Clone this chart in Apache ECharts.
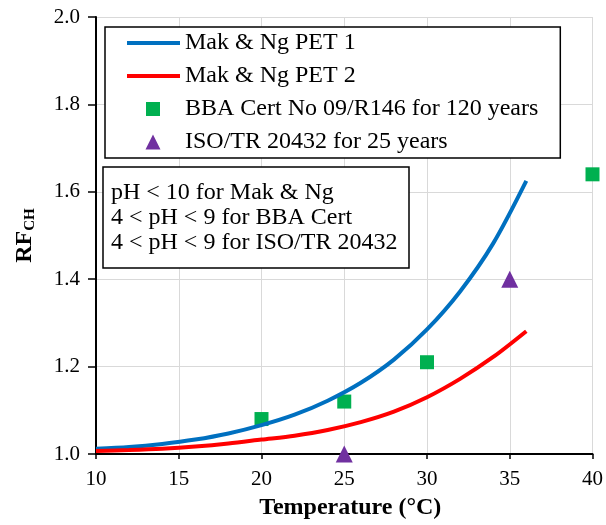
<!DOCTYPE html>
<html>
<head>
<meta charset="utf-8">
<script src="https://cdn.jsdelivr.net/npm/echarts@6/dist/echarts.min.js"></script>
<style>
    html, body { margin: 0; padding: 0; background: #fff; }
    #chart { width: 606px; height: 525px; }
</style>
</head>
<body>
<div id="chart"></div>
<script>
// curve temperatures (°C) and RF_CH
const curveTemp = [10, 12, 14, 16, 18, 20, 22, 24, 26, 28, 30, 32, 34, 36];
const pet1RF = [1.012, 1.016, 1.023, 1.033, 1.047, 1.066, 1.090, 1.122, 1.163, 1.216, 1.285, 1.372, 1.482, 1.625];
const pet2RF = [1.007, 1.009, 1.012, 1.017, 1.024, 1.033, 1.042, 1.055, 1.073, 1.097, 1.130, 1.172, 1.222, 1.281];

const bbaTemp = [20, 25, 30, 40];
const bbaRF = [1.08, 1.12, 1.21, 1.64];

const isoTemp = [25, 35];
const isoRF = [1.00, 1.40];

const seriesNames = ['Mak & Ng PET 1', 'Mak & Ng PET 2', 'BBA Cert No 09/R146 for 120 years', 'ISO/TR 20432 for 25 years'];
const noteLines = ['pH < 10 for Mak & Ng', '4 < pH < 9 for BBA Cert', '4 < pH < 9 for ISO/TR 20432'];

function pairs(xs, ys) {
    return xs.map((x, i) => [x, ys[i]]);
}

const font = 'Liberation Serif';

// legend icons: the empty sub-paths at the corners keep every icon 53x15
const lineIcon = 'path://M0,0L0,0ZM0,5.5H53V9.5H0ZM53,15L53,15Z';
const squareIcon = 'path://M0,0L0,0ZM19,0.5H33V14.5H19ZM53,15L53,15Z';
const triangleIcon = 'path://M0,0L0,0ZM18.5,15L26,0L33.5,15ZM53,15L53,15Z';

const tickText = { fontFamily: font, fontSize: 21, color: '#000' };

let chart = echarts.init(document.getElementById('chart'));
let option = {
    animation: false,
    textStyle: { fontFamily: font, color: '#000' },
    title: {
        text: noteLines.join('\n'),
        left: 103,
        top: 167,
        padding: [13, 12, 13, 8],
        borderColor: '#000',
        borderWidth: 1.5,
        backgroundColor: '#fff',
        textStyle: {
            fontFamily: font,
            fontSize: 24,
            fontWeight: 'normal',
            lineHeight: 25,
            color: '#000'
        }
    },
    legend: {
        orient: 'vertical',
        left: 105,
        top: 27,
        padding: [4, 22, 4, 22],
        itemWidth: 53,
        itemHeight: 15,
        itemGap: 9,
        symbolKeepAspect: true,
        borderColor: '#000',
        borderWidth: 1.5,
        backgroundColor: '#fff',
        data: [
            { name: seriesNames[0], icon: lineIcon },
            { name: seriesNames[1], icon: lineIcon },
            { name: seriesNames[2], icon: squareIcon },
            { name: seriesNames[3], icon: triangleIcon }
        ],
        textStyle: { fontFamily: font, fontSize: 24, lineHeight: 24, color: '#000' }
    },
    grid: {
        left: 96,
        right: 11,
        top: 17,
        bottom: 71
    },
    xAxis: {
        type: 'value',
        min: 10,
        max: 40,
        interval: 5,
        name: 'Temperature (°C)',
        nameLocation: 'middle',
        nameGap: 42,
        nameTextStyle: { fontFamily: font, fontSize: 24, fontWeight: 'bold', color: '#000', padding: [0, 0, 0, 12] },
        axisLine: { onZero: false, lineStyle: { color: '#000', width: 2 } },
        axisTick: { show: true, length: 5, lineStyle: { color: '#000', width: 1.5 } },
        axisLabel: {
            margin: 15,
            fontFamily: font,
            fontSize: 21,
            color: '#000',
            formatter: v => '{t|' + v + '}',
            rich: { t: tickText }
        },
        splitLine: { show: true, lineStyle: { color: '#d9d9d9', width: 1 } }
    },
    yAxis: {
        type: 'value',
        min: 1.0,
        max: 2.0,
        interval: 0.2,
        name: '{a|RF}{b|CH}',
        nameLocation: 'middle',
        nameRotate: 90,
        nameGap: 58,
        nameTextStyle: {
            rich: {
                a: { fontFamily: font, fontSize: 24, fontWeight: 'bold', color: '#000' },
                b: { fontFamily: font, fontSize: 15, fontWeight: 'bold', color: '#000', padding: [12, 0, 0, 0] }
            }
        },
        axisLine: { onZero: false, lineStyle: { color: '#000', width: 2 } },
        axisTick: { show: true, length: 8, lineStyle: { color: '#000', width: 1.5 } },
        axisLabel: {
            margin: 16,
            fontFamily: font,
            fontSize: 21,
            color: '#000',
            formatter: v => '{t|' + v.toFixed(1) + '}',
            rich: { t: tickText }
        },
        splitLine: { show: true, lineStyle: { color: '#d9d9d9', width: 1 } }
    },
    series: [
        {
            name: seriesNames[0],
            type: 'line',
            data: pairs(curveTemp, pet1RF),
            smooth: 0.3,
            showSymbol: false,
            symbol: 'none',
            color: '#0070c0',
            lineStyle: { color: '#0070c0', width: 4 }
        },
        {
            name: seriesNames[1],
            type: 'line',
            data: pairs(curveTemp, pet2RF),
            smooth: 0.3,
            showSymbol: false,
            symbol: 'none',
            color: '#ff0000',
            lineStyle: { color: '#ff0000', width: 4 }
        },
        {
            name: seriesNames[2],
            type: 'scatter',
            data: pairs(bbaTemp, bbaRF),
            symbol: 'rect',
            symbolSize: 14,
            clip: false,
            itemStyle: { color: '#00b050', opacity: 1 }
        },
        {
            name: seriesNames[3],
            type: 'scatter',
            data: pairs(isoTemp, isoRF),
            symbol: 'triangle',
            symbolSize: 17,
            clip: false,
            itemStyle: { color: '#7030a0', opacity: 1 }
        }
    ]
};
chart.setOption(option);
</script>
</body>
</html>
